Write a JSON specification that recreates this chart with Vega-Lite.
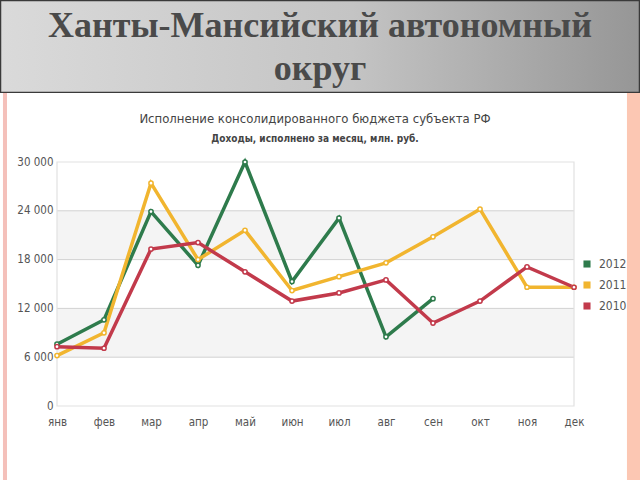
{
  "$schema": "https://vega.github.io/schema/vega-lite/v6.json",
  "padding": 0,
  "background": "white",
  "spacing": 0,
  "bounds": "flush",
  "config": {
    "view": {"stroke": null},
    "font": "DejaVu Sans Condensed, Liberation Sans Narrow, Liberation Sans"
  },
  "vconcat": [
    {
      "width": 640,
      "height": 93,
      "data": {"values": [{"t": "Ханты-Мансийский автономный\nокруг"}]},
      "layer": [
        {
          "mark": {
            "type": "rect",
            "clip": true,
            "fill": {
              "gradient": "linear",
              "x1": 0, "y1": 0, "x2": 1, "y2": 0,
              "stops": [
                {"offset": 0, "color": "#dadada"},
                {"offset": 0.55, "color": "#c4c4c4"},
                {"offset": 1, "color": "#969696"}
              ]
            },
            "stroke": "#3a3a3a",
            "strokeWidth": 2.5
          },
          "encoding": {}
        },
        {
          "mark": {
            "type": "text",
            "font": "Liberation Serif",
            "fontWeight": "bold",
            "fontSize": 36,
            "lineBreak": "\n",
            "lineHeight": 43,
            "color": "#4a4a4a",
            "baseline": "middle",
            "align": "center",
            "dy": -21
          },
          "encoding": {"text": {"field": "t"}}
        }
      ]
    },
    {
      "width": 640,
      "height": 387,
      "title": {
        "text": "Исполнение консолидированного бюджета субъекта РФ",
        "subtitle": "Доходы, исполнено за месяц, млн. руб.",
        "fontSize": 13,
        "fontWeight": "normal",
        "color": "#444444",
        "subtitleFontSize": 10,
        "subtitleFontWeight": "bold",
        "subtitleColor": "#444444",
        "subtitlePadding": 8,
        "offset": -51,
        "anchor": "middle",
        "dx": -5
      },
      "resolve": {"axis": {"x": "independent", "y": "independent"}},
      "layer": [
        {
          "data": {"values": [{"s": "background"}]},
          "mark": {
            "type": "rect",
            "fill": {
              "gradient": "linear",
              "x1": 0, "y1": 0, "x2": 1, "y2": 0,
              "stops": [
                {"offset": 0, "color": "#ffffff"},
                {"offset": 0.0039, "color": "#ffffff"},
                {"offset": 0.0041, "color": "#f4c0ba"},
                {"offset": 0.0108, "color": "#f4c0ba"},
                {"offset": 0.011, "color": "#ffffff"},
                {"offset": 0.9789, "color": "#ffffff"},
                {"offset": 0.9791, "color": "#fcc7b3"},
                {"offset": 1, "color": "#fcc7b3"}
              ]
            }
          },
          "encoding": {}
        },
        {
          "data": {"values": [{"lo": 6000, "hi": 12000}, {"lo": 18000, "hi": 24000}]},
          "mark": {"type": "rect", "fill": "#f4f4f4"},
          "encoding": {
            "x": {"datum": "янв", "type": "ordinal", "axis": null},
            "x2": {"datum": "дек"},
            "y": {"field": "lo", "type": "quantitative", "axis": null},
            "y2": {"field": "hi"}
          }
        },
        {
          "data": {"values": [{"g": 6000}, {"g": 12000}, {"g": 18000}, {"g": 24000}]},
          "mark": {"type": "rule", "color": "#d2d2d2", "strokeWidth": 1},
          "encoding": {
            "x": {"datum": "янв", "type": "ordinal", "axis": null},
            "x2": {"datum": "дек"},
            "y": {"field": "g", "type": "quantitative", "axis": null}
          }
        },
        {
          "data": {"values": [{"lo": 0, "hi": 30000}]},
          "mark": {"type": "rect", "fill": null, "fillOpacity": 0, "stroke": "#e2e2e2", "strokeWidth": 1.2},
          "encoding": {
            "x": {"datum": "янв", "type": "ordinal", "axis": null},
            "x2": {"datum": "дек"},
            "y": {"field": "lo", "type": "quantitative", "axis": null},
            "y2": {"field": "hi"}
          }
        },
        {
          "data": {
            "values": [
              {"month": "янв", "year": "2012", "value": 7600},
              {"month": "фев", "year": "2012", "value": 10600},
              {"month": "мар", "year": "2012", "value": 23900},
              {"month": "апр", "year": "2012", "value": 17300},
              {"month": "май", "year": "2012", "value": 30000},
              {"month": "июн", "year": "2012", "value": 15300},
              {"month": "июл", "year": "2012", "value": 23100},
              {"month": "авг", "year": "2012", "value": 8500},
              {"month": "сен", "year": "2012", "value": 13200},
              {"month": "янв", "year": "2011", "value": 6200},
              {"month": "фев", "year": "2011", "value": 9000},
              {"month": "мар", "year": "2011", "value": 27400},
              {"month": "апр", "year": "2011", "value": 18000},
              {"month": "май", "year": "2011", "value": 21600},
              {"month": "июн", "year": "2011", "value": 14200},
              {"month": "июл", "year": "2011", "value": 15900},
              {"month": "авг", "year": "2011", "value": 17600},
              {"month": "сен", "year": "2011", "value": 20800},
              {"month": "окт", "year": "2011", "value": 24200},
              {"month": "ноя", "year": "2011", "value": 14600},
              {"month": "дек", "year": "2011", "value": 14600},
              {"month": "янв", "year": "2010", "value": 7300},
              {"month": "фев", "year": "2010", "value": 7100},
              {"month": "мар", "year": "2010", "value": 19300},
              {"month": "апр", "year": "2010", "value": 20100},
              {"month": "май", "year": "2010", "value": 16500},
              {"month": "июн", "year": "2010", "value": 12900},
              {"month": "июл", "year": "2010", "value": 13900},
              {"month": "авг", "year": "2010", "value": 15500},
              {"month": "сен", "year": "2010", "value": 10200},
              {"month": "окт", "year": "2010", "value": 12900},
              {"month": "ноя", "year": "2010", "value": 17100},
              {"month": "дек", "year": "2010", "value": 14600}
            ]
          },
          "mark": {
            "type": "line",
            "strokeWidth": 3.5,
            "point": {"filled": false, "fill": "white", "size": 18, "strokeWidth": 1.5}
          },
          "encoding": {
            "x": {
              "field": "month",
              "type": "ordinal",
              "sort": ["янв", "фев", "мар", "апр", "май", "июн", "июл", "авг", "сен", "окт", "ноя", "дек"],
              "scale": {
                "type": "point",
                "domain": ["янв", "фев", "мар", "апр", "май", "июн", "июл", "авг", "сен", "окт", "ноя", "дек"],
                "range": [57, 574],
                "padding": 0
              },
              "axis": {
                "title": null,
                "domain": false,
                "ticks": false,
                "grid": false,
                "offset": -73,
                "labelAngle": 0,
                "labelPadding": 9,
                "labelFontSize": 11.5,
                "labelColor": "#555555",
                "zindex": 1
              }
            },
            "y": {
              "field": "value",
              "type": "quantitative",
              "scale": {"domain": [0, 30000], "nice": false, "zero": false, "range": [313, 69]},
              "axis": {
                "title": null,
                "domain": false,
                "ticks": false,
                "grid": false,
                "offset": -57,
                "values": [0, 6000, 12000, 18000, 24000, 30000],
                "labelExpr": "replace(format(datum.value, ',d'), ',', ' ')",
                "labelPadding": 4,
                "labelFontSize": 11.5,
                "labelColor": "#555555",
                "zindex": 1
              }
            },
            "color": {
              "field": "year",
              "type": "nominal",
              "scale": {"domain": ["2012", "2011", "2010"], "range": ["#2e7b4c", "#f1b52f", "#c23a4b"]},
              "legend": {
                "title": null,
                "orient": "none",
                "legendX": 581,
                "legendY": 258,
                "padding": 0,
                "symbolType": "square",
                "symbolSize": 50,
                "symbolStrokeWidth": 0,
                "rowPadding": 9,
                "labelFontSize": 12,
                "labelColor": "#555555",
                "labelOffset": 6,
                "encode": {
                  "symbols": {"update": {"fill": {"scale": "color", "field": "value"}, "fillOpacity": {"value": 1}}}
                }
              }
            }
          }
        }
      ]
    }
  ]
}
